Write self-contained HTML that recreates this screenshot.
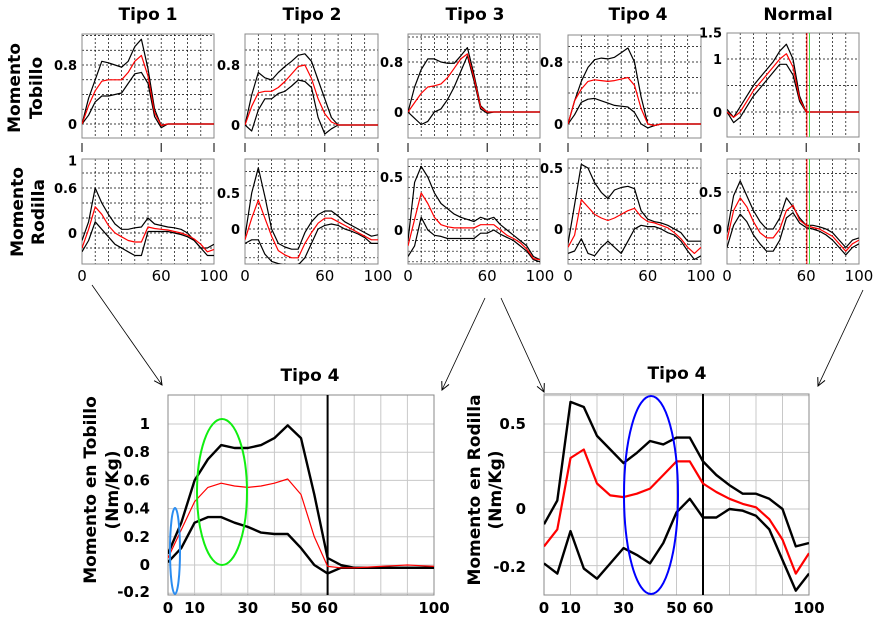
<!DOCTYPE html>
<html><head><meta charset="utf-8"><style>
html,body{margin:0;padding:0;background:#fff;}
svg{display:block;font-family:"DejaVu Sans","Liberation Sans",sans-serif;}
.t{font-weight:bold;font-size:17px;}
.yl{font-weight:bold;font-size:13px;}
.xl{font-size:15px;}
.bl{font-weight:bold;font-size:15px;}
</style></head><body>
<svg id="fig" width="880" height="628" viewBox="0 0 880 628" xmlns="http://www.w3.org/2000/svg">
<defs>
<marker id="ah" markerWidth="10" markerHeight="10" refX="9" refY="5" orient="auto" markerUnits="userSpaceOnUse"><path d="M1,1 L9,5 L1,9" fill="none" stroke="#000" stroke-width="1"/></marker>
</defs>
<g>
<text class="t" x="148" y="20" text-anchor="middle">Tipo 1</text>
<text class="t" x="312" y="20" text-anchor="middle">Tipo 2</text>
<text class="t" x="475" y="20" text-anchor="middle">Tipo 3</text>
<text class="t" x="638" y="20" text-anchor="middle">Tipo 4</text>
<text class="t" x="798" y="20" text-anchor="middle">Normal</text>
</g>
<g>
<text class="t" transform="translate(20,88) rotate(-90)" text-anchor="middle" font-size="16">Momento</text>
<text class="t" transform="translate(42,88) rotate(-90)" text-anchor="middle" font-size="16">Tobillo</text>
</g>
<g>
<text class="t" transform="translate(23,212) rotate(-90)" text-anchor="middle" font-size="16">Momento</text>
<text class="t" transform="translate(44,212) rotate(-90)" text-anchor="middle" font-size="16">Rodilla</text>
</g>
<text class="t" x="310" y="381" text-anchor="middle">Tipo 4</text>
<text class="t" x="677" y="379" text-anchor="middle">Tipo 4</text>
<g>
<text class="t" transform="translate(96,490) rotate(-90)" text-anchor="middle" font-size="16">Momento en Tobillo</text>
<text class="t" transform="translate(118,490) rotate(-90)" text-anchor="middle" font-size="16">(Nm/Kg)</text>
</g>
<g>
<text class="t" transform="translate(480,490) rotate(-90)" text-anchor="middle" font-size="16">Momento en Rodilla</text>
<text class="t" transform="translate(501,490) rotate(-90)" text-anchor="middle" font-size="16">(Nm/Kg)</text>
</g>
<g stroke="#000" stroke-width="0.8" fill="none">
<line x1="92" y1="285" x2="162" y2="385" marker-end="url(#ah)"/>
<line x1="485" y1="298" x2="442" y2="390" marker-end="url(#ah)"/>
<line x1="501" y1="298" x2="544" y2="392" marker-end="url(#ah)"/>
<line x1="863" y1="290" x2="818" y2="386" marker-end="url(#ah)"/>
</g>
<g id="panels"></g>
</svg>
<script>
// ---- data (x = 0,5,...,100 % of gait cycle) ----
const xPct = [0,5,10,15,20,25,30,35,40,45,50,55,60,65,70,75,80,85,90,95,100];
const t1AnkleUp = [0,0.35,0.6,0.85,0.83,0.8,0.77,0.85,1.05,1.15,0.75,0.2,-0.02,0,0,0,0,0,0,0,0];
const t1AnkleMean = [0,0.25,0.45,0.58,0.6,0.6,0.6,0.7,0.85,0.93,0.65,0.15,-0.02,0,0,0,0,0,0,0,0];
const t1AnkleLow = [0,0.12,0.3,0.38,0.38,0.4,0.42,0.55,0.68,0.7,0.55,0.1,-0.05,0,0,0,0,0,0,0,0];
const t2AnkleUp = [0,0.4,0.7,0.63,0.6,0.7,0.78,0.85,0.93,0.95,0.85,0.6,0.35,0.1,0,0,0,0,0,0,0];
const t2AnkleMean = [0,0.25,0.43,0.45,0.45,0.5,0.58,0.68,0.78,0.8,0.62,0.35,0.15,0.04,0,0,0,0,0,0,0];
const t2AnkleLow = [0,-0.08,0.2,0.35,0.35,0.42,0.45,0.52,0.6,0.58,0.5,0.1,-0.12,-0.05,0,0,0,0,0,0,0];
const t3AnkleUp = [0,0.4,0.68,0.85,0.85,0.8,0.78,0.78,0.9,1.03,0.6,0.1,0,0,0,0,0,0,0,0,0];
const t3AnkleMean = [0,0.15,0.3,0.4,0.42,0.45,0.55,0.7,0.85,0.93,0.55,0.08,0,0,0,0,0,0,0,0,0];
const t3AnkleLow = [0,-0.1,-0.2,-0.15,0,0.05,0.2,0.4,0.65,0.9,0.5,0.05,-0.02,0,0,0,0,0,0,0,0];
const t4AnkleUp = [0,0.3,0.55,0.73,0.83,0.85,0.84,0.86,0.92,0.98,0.8,0.35,0,-0.02,0,0,0,0,0,0,0];
const t4AnkleMean = [0,0.3,0.45,0.55,0.57,0.56,0.55,0.56,0.58,0.6,0.5,0.2,0,-0.02,0,0,0,0,0,0,0];
const t4AnkleLow = [0,0.12,0.28,0.32,0.33,0.3,0.27,0.24,0.23,0.22,0.15,0,-0.05,-0.02,0,0,0,0,0,0,0];
const nAnkleUp = [0.05,-0.1,0.1,0.3,0.5,0.65,0.8,0.95,1.15,1.28,1.0,0.3,0,0,0,0,0,0,0,0,0];
const nAnkleMean = [0,-0.1,0,0.2,0.4,0.55,0.7,0.85,1.0,1.1,0.85,0.25,0,0,0,0,0,0,0,0,0];
const nAnkleLow = [0,-0.2,-0.1,0.1,0.3,0.45,0.6,0.75,0.9,0.9,0.7,0.2,0,0,0,0,0,0,0,0,0];
const t1KneeUp = [-0.1,0.15,0.6,0.4,0.25,0.12,0.05,0.05,0.07,0.08,0.2,0.12,0.1,0.08,0.07,0.05,0,-0.1,-0.2,-0.2,-0.15];
const t1KneeMean = [-0.2,0.05,0.35,0.25,0.1,0,-0.05,-0.1,-0.12,-0.12,0.08,0.06,0.05,0.04,0.02,0,-0.03,-0.08,-0.15,-0.25,-0.22];
const t1KneeLow = [-0.25,-0.1,0.15,0.05,-0.05,-0.15,-0.2,-0.25,-0.3,-0.3,0.02,0.02,0.02,0.02,0,-0.02,-0.05,-0.1,-0.2,-0.3,-0.3];
const t2KneeUp = [-0.1,0.5,0.85,0.45,0,-0.2,-0.25,-0.28,-0.28,-0.05,0.1,0.2,0.25,0.25,0.18,0.1,0.05,0,-0.05,-0.1,-0.08];
const t2KneeMean = [-0.15,0.15,0.4,0.15,-0.1,-0.3,-0.36,-0.4,-0.4,-0.2,-0.05,0.08,0.15,0.15,0.1,0.05,0,-0.05,-0.1,-0.15,-0.15];
const t2KneeLow = [-0.2,-0.15,-0.15,-0.35,-0.45,-0.48,-0.5,-0.5,-0.5,-0.4,-0.2,0,0.05,0.07,0.05,0,-0.03,-0.07,-0.12,-0.2,-0.2];
const t3KneeUp = [-0.1,0.45,0.6,0.5,0.35,0.25,0.2,0.15,0.12,0.1,0.08,0.12,0.1,0.12,0.05,0,-0.05,-0.1,-0.15,-0.25,-0.28];
const t3KneeMean = [-0.15,0.1,0.35,0.25,0.12,0.05,0.03,0.02,0.02,0.02,0.02,0.05,0.05,0.05,0,-0.05,-0.08,-0.12,-0.18,-0.27,-0.28];
const t3KneeLow = [-0.25,-0.15,0.12,0,-0.05,-0.06,-0.08,-0.08,-0.08,-0.08,-0.08,-0.03,-0.03,0,-0.04,-0.07,-0.1,-0.15,-0.2,-0.28,-0.3];
const t4SmallKneeUp = [-0.12,0.2,0.53,0.5,0.38,0.3,0.25,0.32,0.34,0.35,0.33,0.15,0.08,0.06,0.05,0.03,0.0,-0.03,-0.1,-0.1,-0.1];
const t4SmallKneeMean = [-0.15,-0.05,0.24,0.18,0.12,0.09,0.07,0.09,0.12,0.15,0.17,0.1,0.06,0.05,0.03,0.01,-0.03,-0.08,-0.15,-0.2,-0.15];
const t4SmallKneeLow = [-0.2,-0.18,-0.08,-0.2,-0.22,-0.15,-0.1,-0.15,-0.2,-0.1,0.0,0.03,0.02,0.02,0.0,-0.03,-0.05,-0.1,-0.18,-0.25,-0.22];
const t4KneeUp = [-0.09,0.05,0.63,0.6,0.43,0.35,0.27,0.33,0.4,0.38,0.42,0.42,0.28,0.2,0.14,0.09,0.09,0.06,0,-0.22,-0.2];
const t4KneeMean = [-0.22,-0.12,0.3,0.35,0.15,0.08,0.07,0.09,0.12,0.2,0.28,0.28,0.15,0.1,0.06,0.03,0.01,-0.06,-0.18,-0.38,-0.26];
const t4KneeLow = [-0.32,-0.38,-0.13,-0.35,-0.41,-0.32,-0.23,-0.27,-0.32,-0.2,-0.02,0.06,-0.05,-0.05,0,-0.01,-0.04,-0.12,-0.3,-0.48,-0.38];
const nKneeUp = [-0.05,0.45,0.65,0.45,0.25,0.1,0,0,0.15,0.42,0.3,0.15,0.05,0.05,0.03,0,-0.05,-0.15,-0.25,-0.15,-0.12];
const nKneeMean = [-0.15,0.25,0.42,0.3,0.1,-0.05,-0.12,-0.12,0,0.25,0.32,0.12,0.05,0.02,0,-0.05,-0.1,-0.2,-0.3,-0.2,-0.15];
const nKneeLow = [-0.25,0.05,0.2,0.1,-0.08,-0.2,-0.3,-0.3,-0.15,0.15,0.22,0.08,0.02,0,-0.03,-0.08,-0.15,-0.25,-0.35,-0.25,-0.2];
const detAnkleUp = [0.08,0.3,0.6,0.75,0.85,0.83,0.83,0.85,0.9,0.99,0.9,0.5,0.05,0,-0.02,-0.02,-0.02,-0.02,-0.02,-0.02,-0.02];
const detAnkleMean = [0.05,0.25,0.45,0.55,0.58,0.56,0.55,0.56,0.58,0.61,0.5,0.2,-0.01,-0.02,-0.02,-0.015,-0.01,-0.005,0,-0.005,-0.01];
const detAnkleLow = [0.02,0.12,0.3,0.34,0.34,0.3,0.27,0.23,0.22,0.22,0.12,0,-0.06,-0.02,-0.02,-0.02,-0.02,-0.02,-0.02,-0.02,-0.02];
const xTickSmall = [0,60,100];
const xTickLabelsSmall = ['0','60','100'];
const xTickDetail = [0,10,30,50,60,100];
const xTickLabelsDetail = ['0','10','30','50','60','100'];

// geometry configs
const panels = [
 {n:'tipo1-ankle',x0:82,x1:214,y0:34,y1:138,z:124,ppu:73.75,g:0.2,tv:[0,0.8],tl:['0','0.8'],s:[t1AnkleUp,t1AnkleMean,t1AnkleLow]},
 {n:'tipo2-ankle',x0:245,x1:378,y0:34,y1:138,z:125,ppu:75,g:0.2,tv:[0,0.8],tl:['0','0.8'],s:[t2AnkleUp,t2AnkleMean,t2AnkleLow]},
 {n:'tipo3-ankle',x0:408,x1:540,y0:34,y1:138,z:112,ppu:62.5,g:0.2,tv:[0,0.8],tl:['0','0.8'],s:[t3AnkleUp,t3AnkleMean,t3AnkleLow]},
 {n:'tipo4-ankle',x0:568,x1:701,y0:35,y1:138,z:124,ppu:77.5,g:0.2,tv:[0,0.8],tl:['0','0.8'],s:[t4AnkleUp,t4AnkleMean,t4AnkleLow]},
 {n:'normal-ankle',x0:727,x1:859,y0:33,y1:137,z:112,ppu:53,g:0.5,tv:[0,1,1.5],tl:['0','1','1.5'],s:[nAnkleUp,nAnkleMean,nAnkleLow],vl:true},
 {n:'tipo1-knee',x0:82,x1:214,y0:159,y1:264,z:233,ppu:75,g:0.2,tv:[0,0.6,0.97],tl:['0','0.6','1'],s:[t1KneeUp,t1KneeMean,t1KneeLow],xl:true},
 {n:'tipo2-knee',x0:245,x1:378,y0:159,y1:264,z:229,ppu:72,g:0.2,tv:[0,0.5],tl:['0','0.5'],s:[t2KneeUp,t2KneeMean,t2KneeLow],xl:true},
 {n:'tipo3-knee',x0:408,x1:540,y0:159,y1:264,z:230,ppu:106,g:0.1,tv:[0,0.5],tl:['0','0.5'],s:[t3KneeUp,t3KneeMean,t3KneeLow],xl:true},
 {n:'tipo4-knee',x0:568,x1:701,y0:159,y1:264,z:229,ppu:122,g:0.125,tv:[0,0.5],tl:['0','0.5'],s:[t4SmallKneeUp,t4SmallKneeMean,t4SmallKneeLow],xl:true},
 {n:'normal-knee',x0:727,x1:859,y0:159,y1:264,z:229,ppu:74,g:0.25,tv:[0,0.5],tl:['0','0.5'],s:[nKneeUp,nKneeMean,nKneeLow],xl:true,vl:true},
 {n:'detail-ankle',x0:168,x1:434,y0:395,y1:595,z:565,ppu:141,g:0.2,tv:[-0.19,0,0.2,0.4,0.6,0.8,1],tl:['-0.2','0','0.2','0.4','0.6','0.8','1'],s:[detAnkleUp,detAnkleMean,detAnkleLow],det:true},
 {n:'detail-knee',x0:544,x1:809,y0:394,y1:595,z:509,ppu:170,g:0.1667,tv:[-0.34,0,0.5],tl:['-0.2','0','0.5'],s:[t4KneeUp,t4KneeMean,t4KneeLow],det:true}
];
const NS='http://www.w3.org/2000/svg';
const root=document.getElementById('panels');
function mk(tag,attrs,parent){const e=document.createElementNS(NS,tag);for(const k in attrs)e.setAttribute(k,attrs[k]);parent.appendChild(e);return e;}
panels.forEach((p,i)=>{
 const xs=v=>p.x0+(p.x1-p.x0)*v/100;
 const ys=v=>p.z-v*p.ppu;
 const g=mk('g',{},root);
 
 
 const cp=mk('clipPath',{id:'c'+i},g);mk('rect',{x:p.x0,y:p.y0,width:p.x1-p.x0,height:p.y1-p.y0},cp);
 const gs=p.det?{stroke:'#c8c8c8','stroke-width':1}:{stroke:'#000','stroke-width':0.7,'stroke-dasharray':'2,2'};
 for(let k=1;k<10;k++){const x=xs(k*10);const l=mk('line',Object.assign({x1:x,x2:x,y1:p.y0,y2:p.y1},gs),g);}
 const vmin=(p.z-p.y1)/p.ppu, vmax=(p.z-p.y0)/p.ppu;
 for(let v=Math.ceil(vmin/p.g)*p.g; v<vmax; v+=p.g){const y=ys(v);if(y<=p.y0+1||y>=p.y1-1)continue;const l=mk('line',Object.assign({x1:p.x0,x2:p.x1,y1:y,y2:y},gs),g);}
 const fr=mk('rect',{x:p.x0,y:p.y0,width:p.x1-p.x0,height:p.y1-p.y0,fill:'none',stroke:'#888','stroke-width':1},g);
 
 p.tv.forEach((v,k)=>{const t=mk('text',{x:p.x0-(p.det?18:5),y:ys(v)+5,'text-anchor':'end',class:p.det?'bl':'yl'},g);t.textContent=p.tl[k];
  });
 if(p.det){
  const vx=mk('line',{x1:xs(60),x2:xs(60),y1:p.y0,y2:p.y1,stroke:'#000','stroke-width':2},g);
  
  xTickDetail.forEach((v,k)=>{const t=mk('text',{x:xs(v),y:p.y1+18,'text-anchor':'middle',class:'bl'},g);t.textContent=xTickLabelsDetail[k];
   });
 }
 if(p.xl){
  xTickSmall.forEach((v,k)=>{const t=mk('text',{x:xs(v),y:281,'text-anchor':'middle',class:'xl'},g);t.textContent=xTickLabelsSmall[k];
   
   const tk=mk('line',{x1:xs(v),x2:xs(v),y1:143,y2:152,stroke:'#000','stroke-width':1},g);
   });
 }
 const sg=mk('g',{'clip-path':'url(#c'+i+')'},g);
 const order=[0,2,1];
 order.forEach(si=>{
  const arr=p.s[si];const pts=arr.map((v,k)=>xs(xPct[k]).toFixed(1)+','+ys(v).toFixed(1)).join(' ');
  const red=si===1;
  const w=p.det?(red?(p.n==='detail-knee'?2.2:1.2):2.4):1.2;
  const pl=mk('polyline',{points:pts,fill:'none',stroke:red?'#f00':'#000','stroke-width':w,'stroke-linejoin':'round'},sg);
  
  
 });
 if(p.vl){
  const r=mk('line',{x1:xs(60.5),x2:xs(60.5),y1:p.y0,y2:p.y1,stroke:'#f00','stroke-width':1},g);
  
  const gl=mk('line',{x1:xs(62.5),x2:xs(62.5),y1:p.y0,y2:p.y1,stroke:'#4d4','stroke-width':1},g);
  
 }
});
const e1=mk('ellipse',{cx:175,cy:551,rx:5,ry:43,fill:'none',stroke:'#2a8cf0','stroke-width':2},root);

const e2=mk('ellipse',{cx:222,cy:492,rx:25,ry:73,fill:'none',stroke:'#1e1','stroke-width':2},root);

const e3=mk('ellipse',{cx:651,cy:495,rx:27,ry:99,fill:'none',stroke:'#00f','stroke-width':2},root);

</script>
</body></html>
